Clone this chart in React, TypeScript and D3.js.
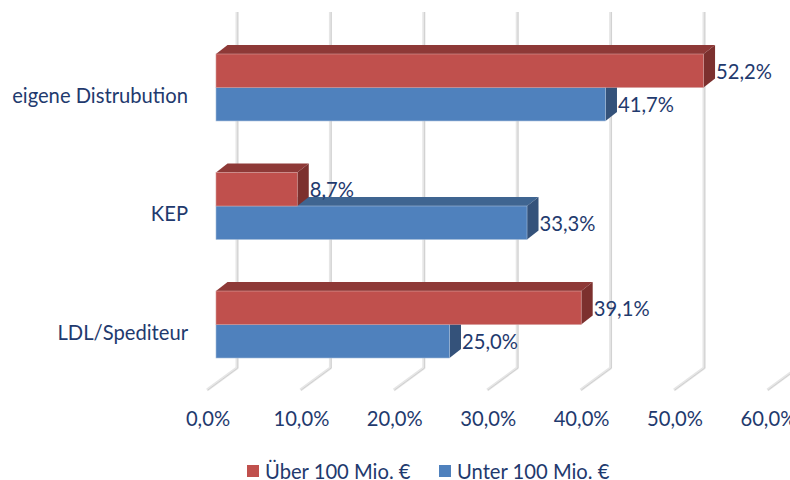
import React from 'react';
import * as d3 from 'd3';

const categories = ['eigene Distrubution', 'KEP', 'LDL/Spediteur'];
const seriesNames = ['Über 100 Mio. €', 'Unter 100 Mio. €'];
const over100 = [52.2, 8.7, 39.1];
const under100 = [41.7, 33.3, 25.0];
const ticks = [0, 10, 20, 30, 40, 50, 60];

const WIDTH = 790;
const HEIGHT = 480;
const FONT = 'Lato, Carlito, sans-serif';
const FONT_SIZE = 20.2;
const TEXT = '#1f3a6e';

const palette = [
  { front: '#c0504d', top: '#8e3937', side: '#7c302e', edge: '#d49a98' },
  { front: '#4f81bd', top: '#3f6591', side: '#34527a', edge: '#a3bcd9' },
];

// bar depth and wall depth of the fake 3d box
const BAR_DX = 11.5;
const BAR_DY = -9;
const WALL_DX = 21;
const WALL_TOP = 12;
const WALL_BOTTOM = 368;
const FLOOR_DX = -30;
const FLOOR_DY = 22;

const x = d3.scaleLinear().domain([0, 60]).range([216, 776.4]);
const y = d3.scaleBand<string>().domain(categories).range([54, 358]).paddingInner(0.435);
const inner = d3.scaleBand<number>().domain([0, 1]).range([0, y.bandwidth()]);

const fmt = (v: number) => v.toFixed(1).replace('.', ',') + '%';

const Bar: React.FC<{ value: number; top: number; height: number; colors: typeof palette[number] }> = ({ value, top, height, colors }) => {
  const x0 = x(0);
  const x1 = x(value);
  const bottom = top + height;
  return (
    <g>
      <path
        d={`M${x0} ${top}L${x0 + BAR_DX} ${top + BAR_DY}H${x1 + BAR_DX}L${x1} ${top}Z`}
        fill={colors.top}
      />
      <path
        d={`M${x1} ${top}L${x1 + BAR_DX} ${top + BAR_DY}V${bottom + BAR_DY}L${x1} ${bottom}Z`}
        fill={colors.side}
      />
      <rect x={x0} y={top} width={x1 - x0} height={height} fill={colors.front} stroke={colors.edge} strokeWidth={0.6} />
    </g>
  );
};

const App: React.FC = () => {
  const series = [over100, under100];
  return (
    <svg
      width={WIDTH}
      height={HEIGHT}
      viewBox={`0 0 ${WIDTH} ${HEIGHT}`}
      style={{ position: 'absolute', left: 0, top: 0, background: '#fff', fontFamily: FONT }}
    >
      {/* Wall and floor gridlines */}
      {ticks.map(t => {
        const bx = x(t) + WALL_DX;
        const path = `M${bx} ${WALL_TOP}V${WALL_BOTTOM}L${bx + FLOOR_DX} ${WALL_BOTTOM + FLOOR_DY}`;
        return (
          <g key={t} fill="none">
            <path d={path} stroke="#e6e6e6" strokeWidth={3} />
            <path d={path} stroke="#cdcdcd" strokeWidth={0.9} transform="translate(0.8,0)" />
          </g>
        );
      })}

      {/* Bars, blue first so the red one sits in front of its top face */}
      {categories.map((c, i) => (
        <g key={c}>
          {[1, 0].map(s => (
            <Bar
              key={s}
              value={series[s][i]}
              top={(y(c) as number) + (inner(s) as number)}
              height={inner.bandwidth()}
              colors={palette[s]}
            />
          ))}
        </g>
      ))}

      {/* Data labels */}
      {categories.map((c, i) =>
        series.map((vals, s) => (
          <text
            key={c + s}
            x={x(vals[i]) + BAR_DX + 1}
            y={(y(c) as number) + (inner(s) as number) + inner.bandwidth() / 2 + 1}
            dy="0.35em"
            fontSize={FONT_SIZE}
            fill={TEXT}
          >
            {fmt(vals[i])}
          </text>
        ))
      )}

      {/* Category labels */}
      {categories.map(c => (
        <text
          key={c}
          x={188}
          y={(y(c) as number) + y.bandwidth() / 2 + 8}
          dy="0.35em"
          textAnchor="end"
          fontSize={FONT_SIZE}
          fill={TEXT}
        >
          {c}
        </text>
      ))}

      {/* Value axis labels */}
      {ticks.map(t => (
        <text key={t} x={x(t) - 8} y={419} dy="0.35em" textAnchor="middle" fontSize={FONT_SIZE} fill={TEXT}>
          {fmt(t)}
        </text>
      ))}

      {/* Legend */}
      {seriesNames.map((name, i) => {
        const lx = i === 0 ? 247 : 439;
        return (
          <g key={name}>
            <rect x={lx} y={465} width={12} height={12} fill={palette[i].front} />
            <text x={lx + 18} y={471.5} dy="0.35em" fontSize={FONT_SIZE} fill={TEXT}>
              {name}
            </text>
          </g>
        );
      })}
    </svg>
  );
};

export default App;
